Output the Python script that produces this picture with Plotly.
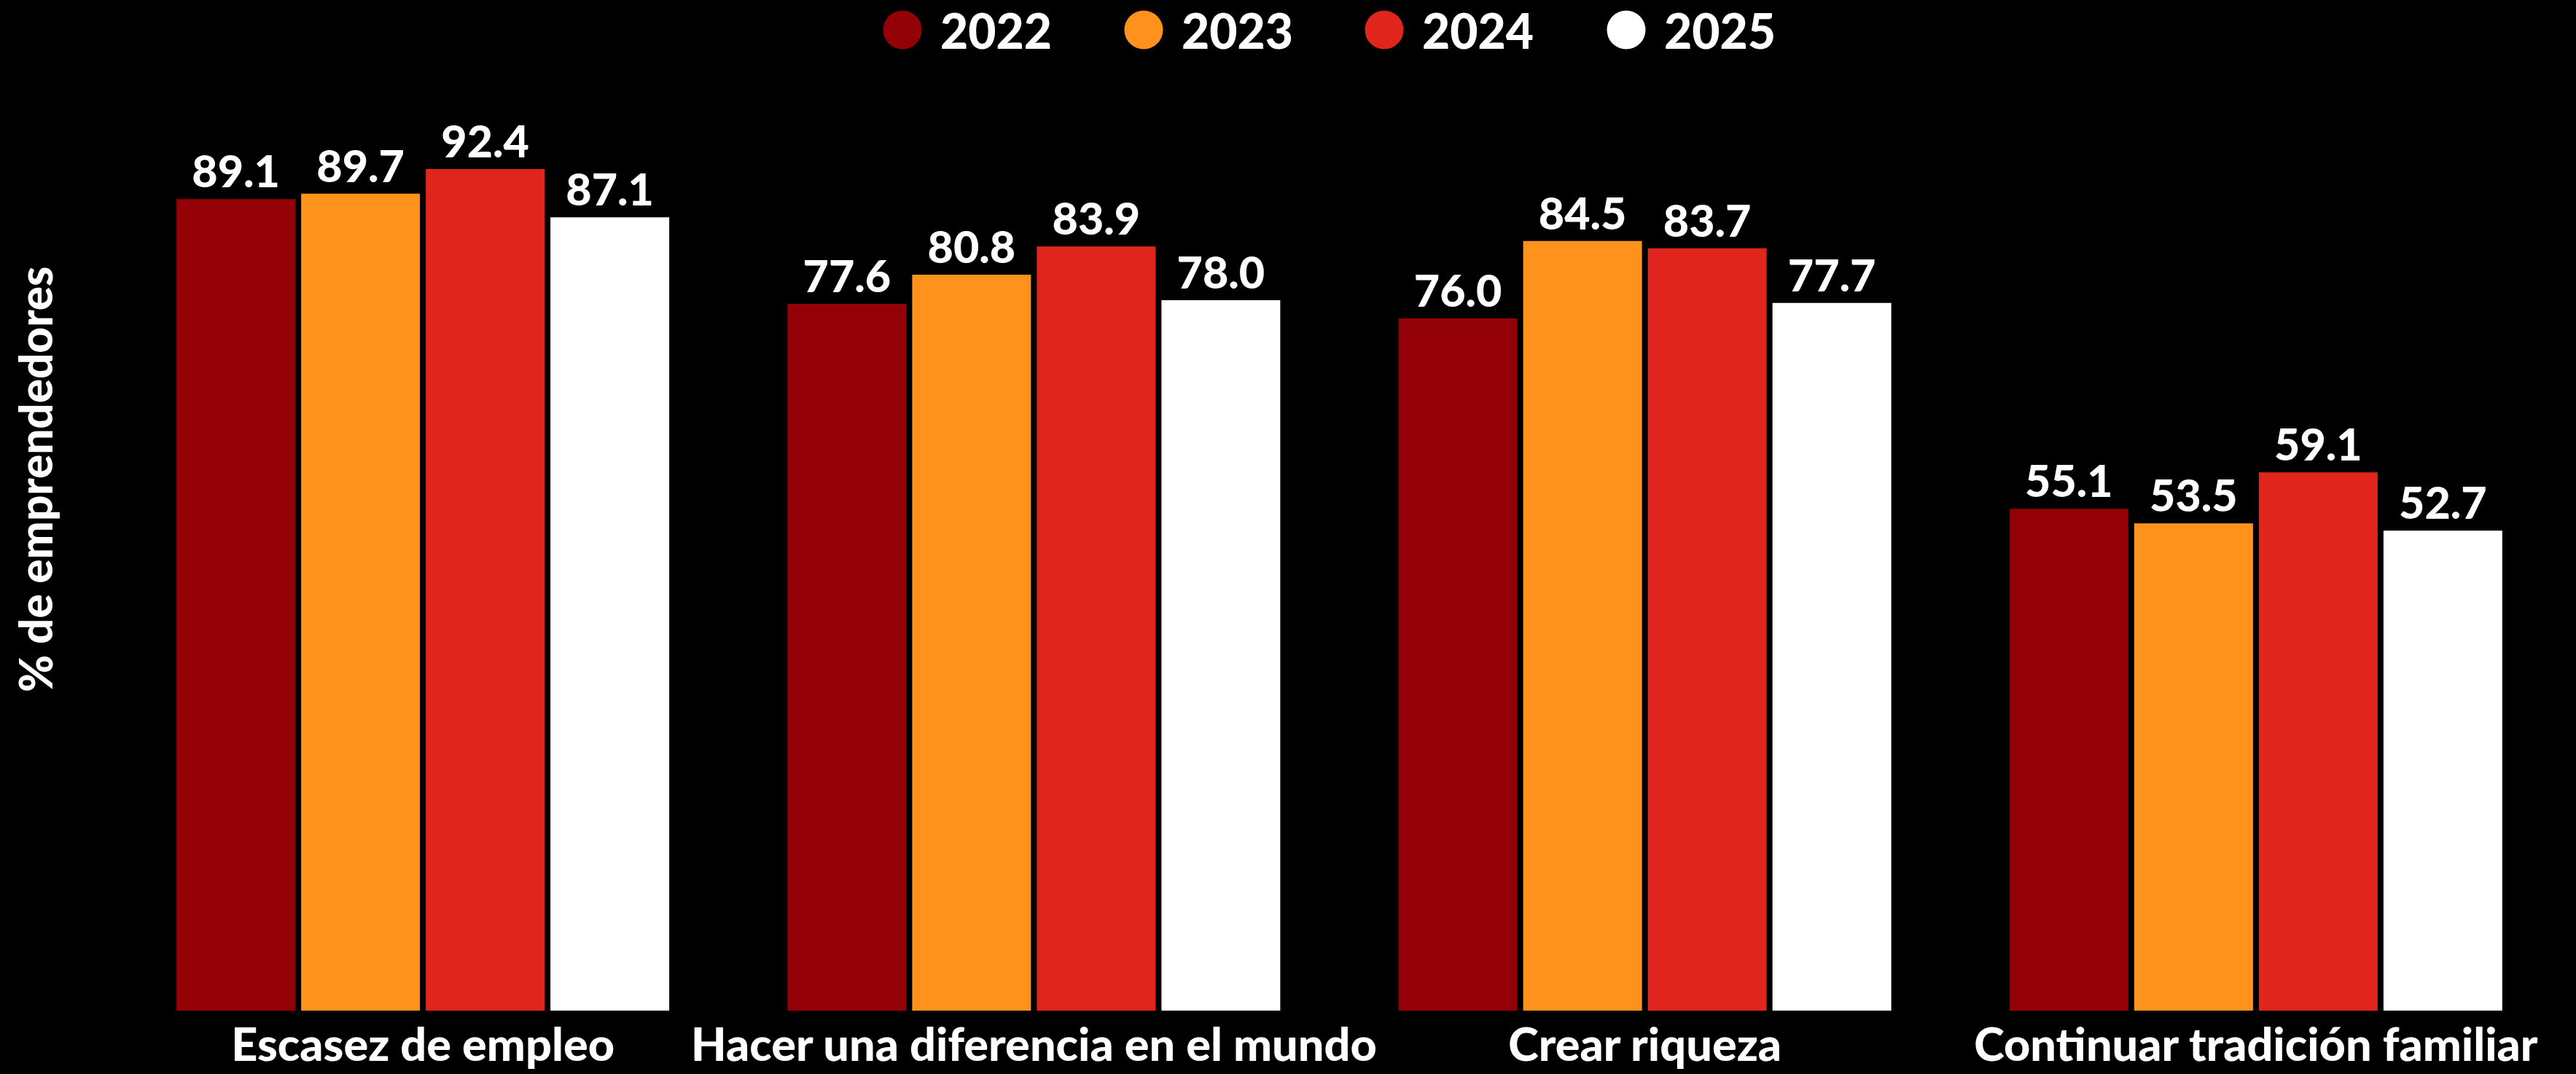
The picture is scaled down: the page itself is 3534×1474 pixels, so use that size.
import plotly.graph_objects as go

categories = ["Escasez de empleo", "Hacer una diferencia en el mundo", "Crear riqueza", "Continuar tradición familiar"]
years = ["2022", "2023", "2024", "2025"]
v2022 = [89.1, 77.6, 76.0, 55.1]
v2023 = [89.7, 80.8, 84.5, 53.5]
v2024 = [92.4, 83.9, 83.7, 59.1]
v2025 = [87.1, 78.0, 77.7, 52.7]
colors = ["#930006", "#FF921C", "#E0261C", "#FFFFFF"]
y_title = "% de emprendedores"

series = [v2022, v2023, v2024, v2025]

W, H = 3534, 1474
ML, MR, MT, MB = 161, 20, 137, 87
PW, PH = W - ML - MR, H - MT - MB
FONT = "Lato"
WEIGHT = 900

fig = go.Figure()
for name, vals, col in zip(years, series, colors):
    fig.add_trace(go.Bar(
        x=categories, y=vals, name=name,
        marker=dict(color=col, line=dict(width=0)),
        texttemplate="%{y:.1f}", textposition="outside",
        textfont=dict(family=FONT, size=61, color="white", weight=WEIGHT),
        cliponaxis=False, showlegend=False,
    ))

def px_x(p):
    return (p - ML) / PW

def px_y(p):
    return (H - MB - p) / PH

shapes = []
annotations = []
leg_centers = [1238, 1569, 1899, 2231]
for name, col, cx in zip(years, colors, leg_centers):
    shapes.append(dict(type="circle", xref="paper", yref="paper",
                       xsizemode="pixel", ysizemode="pixel",
                       xanchor=px_x(cx), yanchor=px_y(41),
                       x0=-26.5, x1=26.5, y0=-26.5, y1=26.5,
                       fillcolor=col, line=dict(width=0)))
    annotations.append(dict(text=name, xref="paper", yref="paper",
                            x=px_x(cx + 50), y=px_y(42), xanchor="left", yanchor="middle",
                            showarrow=False,
                            font=dict(family=FONT, size=66, color="white", weight=WEIGHT)))

annotations.append(dict(text=y_title, xref="paper", yref="paper",
                        x=px_x(48), y=px_y(658), xanchor="center", yanchor="middle",
                        textangle=-90, showarrow=False,
                        font=dict(family=FONT, size=62, color="white", weight=WEIGHT)))

fig.update_layout(
    width=W, height=H,
    margin=dict(l=ML, r=MR, t=MT, b=MB, pad=0, autoexpand=False),
    paper_bgcolor="black", plot_bgcolor="black",
    barmode="group", bargap=0.184, bargroupgap=0.047,
    showlegend=False,
    shapes=shapes, annotations=annotations,
    xaxis=dict(showgrid=False, zeroline=False, showline=False, ticks="",
               automargin=False, ticklabelstandoff=5,
               tickfont=dict(family=FONT, size=63, color="white", weight=WEIGHT)),
    yaxis=dict(range=[0, 100], showgrid=False, zeroline=False, showline=False,
               automargin=False, showticklabels=False, ticks=""),
)

fig.write_html("out.html",
               config={"displayModeBar": False},
               post_script="document.body.style.margin='0';document.body.style.background='black';")
